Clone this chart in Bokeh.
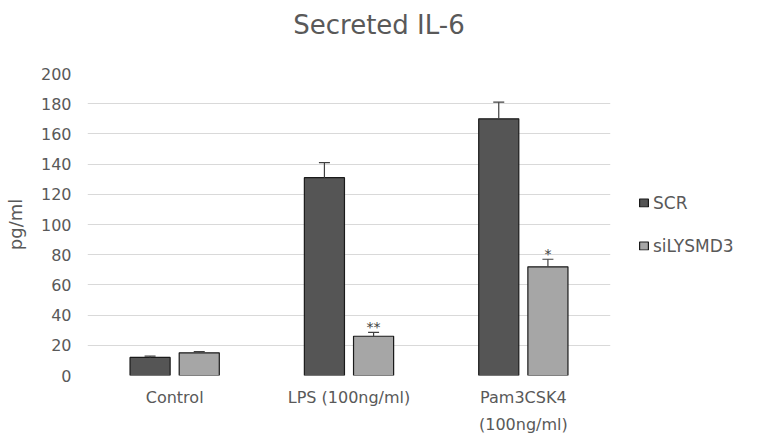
from bokeh.plotting import figure
from bokeh.models import (ColumnDataSource, FixedTicker, Whisker, TeeHead,
                          Legend, LegendItem, Range1d)
from bokeh.core.properties import value
from bokeh.embed import file_html
from bokeh.resources import INLINE

# Data
groups = ["Control", "LPS (100ng/ml)", "Pam3CSK4\n(100ng/ml)"]
scr_vals = [12, 131, 170]
scr_err = [0.8, 10, 11]
si_vals = [15, 26, 72]
si_err = [0.8, 2.5, 5]
si_marks = ["", "**", "*"]
y_ticks = [0, 20, 40, 60, 80, 100, 120, 140, 160, 180, 200]

FONT = "DejaVu Sans"
GREY_TXT = "#595959"
SCR_COLOR = "#555555"
SI_COLOR = "#a6a6a6"

p = figure(frame_width=523, frame_height=302,
           output_backend="svg", toolbar_location=None,
           x_range=Range1d(0, 3), y_range=Range1d(0, 200),
           min_border_left=87, min_border_right=147,
           min_border_top=73, min_border_bottom=63)
p.outline_line_color = None
p.background_fill_color = "white"
p.border_fill_color = "white"

centers = [i + 0.5 for i in range(len(groups))]
off = 0.141
bw = 0.23

scr_src = ColumnDataSource(dict(
    x=[c - off for c in centers], top=scr_vals,
    upper=[v + e for v, e in zip(scr_vals, scr_err)]))
si_src = ColumnDataSource(dict(
    x=[c + off for c in centers], top=si_vals,
    upper=[v + e for v, e in zip(si_vals, si_err)],
    mark=si_marks))

r_scr = p.vbar(x="x", top="top", width=bw, source=scr_src,
               fill_color=SCR_COLOR, line_color="#1a1a1a", line_width=1.2)
r_si = p.vbar(x="x", top="top", width=bw, source=si_src,
              fill_color=SI_COLOR, line_color="#1a1a1a", line_width=1.2)

for src in (scr_src, si_src):
    w = Whisker(source=src, base="x", lower="top", upper="upper",
                line_color="#404040", line_width=1.2,
                upper_head=TeeHead(size=11, line_color="#404040", line_width=1.2),
                lower_head=None, level="glyph")
    p.add_layout(w)

# significance markers above the siLYSMD3 bars
p.text(x="x", y="upper", text="mark", source=si_src,
       text_align="center", text_baseline="bottom", y_offset=3,
       text_font=value(FONT), text_font_size="14px", text_color="#404040")

# axes
p.xaxis.ticker = FixedTicker(ticks=centers)
p.xaxis.major_label_overrides = {c: g for c, g in zip(centers, groups)}
p.yaxis.ticker = FixedTicker(ticks=y_ticks)
for ax in (p.xaxis[0], p.yaxis[0]):
    ax.axis_line_color = None
    ax.major_tick_line_color = None
    ax.minor_tick_line_color = None
    ax.major_label_text_font = FONT
    ax.major_label_text_color = GREY_TXT
    ax.major_label_text_font_size = "16px"
p.xaxis.major_label_standoff = 6
p.xaxis.major_label_text_line_height = 1.45
p.yaxis.major_label_standoff = 10
p.yaxis.axis_label = "pg/ml"
p.yaxis.axis_label_text_font = FONT
p.yaxis.axis_label_text_font_size = "18px"
p.yaxis.axis_label_text_font_style = "normal"
p.yaxis.axis_label_text_color = GREY_TXT
p.yaxis.axis_label_standoff = 12

p.xgrid.grid_line_color = None
p.ygrid.grid_line_color = "#d9d9d9"
p.ygrid.grid_line_width = 1.2

# title, lifted and shifted right with padding (left, right, top, bottom)
p.title.text = "Secreted IL-6"
p.title.align = "center"
p.title.vertical_align = "bottom"
p.title.standoff = 0
p.title.padding = (60, 0, 0, 34)
p.title.text_font = FONT
p.title.text_font_size = "26px"
p.title.text_font_style = "normal"
p.title.text_color = GREY_TXT

# legend in the right-hand panel
legend = Legend(items=[LegendItem(label="SCR", renderers=[r_scr]),
                       LegendItem(label="siLYSMD3", renderers=[r_si])],
                location="center_left", orientation="vertical",
                glyph_width=11, glyph_height=10, label_height=20, spacing=23,
                label_standoff=4, padding=0, margin=28,
                border_line_color=None, background_fill_alpha=0,
                label_text_font=FONT, label_text_font_size="17px",
                label_text_color=GREY_TXT)
p.add_layout(legend, "right")

open("out.html", "w").write(file_html(p, INLINE))
